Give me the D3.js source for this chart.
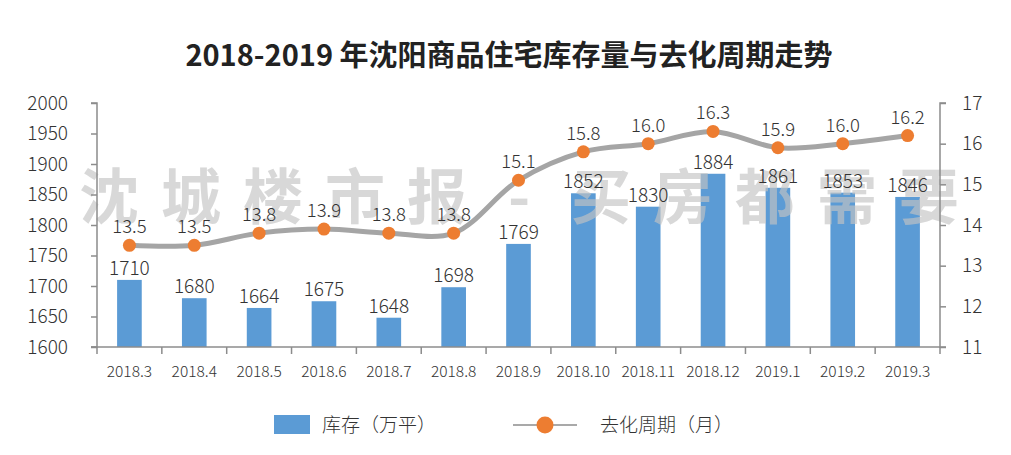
<!DOCTYPE html>
<html><head><meta charset="utf-8">
<script src="https://cdn.jsdelivr.net/npm/d3@7"></script>
<style>body{margin:0;background:#fff}svg{display:block}text{font-family:"Noto Sans CJK SC","Noto Sans",sans-serif}</style>
</head><body><svg id="c" width="1011" height="455"></svg>
<script>
const categories=["2018.3","2018.4","2018.5","2018.6","2018.7","2018.8","2018.9","2018.10","2018.11","2018.12","2019.1","2019.2","2019.3"];
const stock=[1710,1680,1664,1675,1648,1698,1769,1852,1830,1884,1861,1853,1846];
const cycle=[13.5,13.5,13.8,13.9,13.8,13.8,15.1,15.8,16.0,16.3,15.9,16.0,16.2];
const leftTicks=[1600,1650,1700,1750,1800,1850,1900,1950,2000];
const rightTicks=[11,12,13,14,15,16,17];
const title="2018-2019 年沈阳商品住宅库存量与去化周期走势";
const watermark=["沈","城","楼","市","报","-","买","房","都","需","要"];
const legendLabels=["库存（万平）","去化周期（月）"];

const svg=d3.select("#c");
const L=97,R=940,T=103,B=347;
const x=d3.scaleBand().domain(categories).range([L,R]).paddingInner(0.62).paddingOuter(0.31);
const xb=d3.scaleBand().domain(categories).range([L,R]);
const yL=d3.scaleLinear().domain([1600,2000]).range([B,T]);
const yR=d3.scaleLinear().domain([11,17]).range([B,T]);
const axisColor="#8c8c8c";
const labelFont='"Noto Sans CJK SC","Noto Sans",sans-serif';

svg.append("text").attr("x",509).attr("y",66).attr("text-anchor","middle")
  .attr("font-size",29).attr("font-weight","bold").attr("fill","#222").text(title);

// bars
svg.append("g").selectAll("rect").data(stock).join("rect")
  .attr("x",(d,i)=>x(categories[i])).attr("width",x.bandwidth())
  .attr("y",d=>yL(d)).attr("height",d=>B-yL(d)).attr("fill","#5b9bd5");

// watermark (over bars, under labels)
const wm=svg.append("g");
wm.selectAll("text").data(watermark).join("text")
  .attr("x",(d,i)=>109+i*82).attr("y",219).attr("text-anchor","middle")
  .attr("font-size",60).attr("font-weight","bold").attr("fill","#c4c4c4").attr("opacity",0.65).text(d=>d);

svg.append("g").selectAll("text").data(stock).join("text")
  .attr("x",(d,i)=>x(categories[i])+x.bandwidth()/2).attr("y",d=>yL(d)-5)
  .attr("text-anchor","middle").attr("font-size",19).attr("font-weight",300).attr("fill","#333").text(d=>d);

// axes
const gL=svg.append("g").attr("transform",`translate(${L},0)`).call(d3.axisLeft(yL).tickValues(leftTicks).tickSize(6).tickPadding(23).tickFormat(d3.format("d")));
const gR=svg.append("g").attr("transform",`translate(${R},0)`).call(d3.axisRight(yR).tickValues(rightTicks).tickSize(6).tickPadding(16).tickFormat(d3.format("d")));
const gX=svg.append("g").attr("transform",`translate(0,${B})`).call(d3.axisBottom(xb).tickSize(0).tickPadding(19));
[gL,gR,gX].forEach(g=>{g.select(".domain").attr("stroke",axisColor).attr("stroke-width",1.5);
  g.selectAll(".tick line").attr("stroke",axisColor).attr("stroke-width",1.5);
  g.selectAll("text").attr("fill","#333").attr("font-family",labelFont).attr("font-weight",300);});
gL.selectAll("text").attr("font-size",19);
gR.selectAll("text").attr("font-size",19);
gX.selectAll("text").attr("font-size",15.5);
gL.select(".domain").attr("d",`M-6,${B}H0V${T}H-6`);
gX.select(".domain").attr("d",`M${L-6},0H${R}`);
gR.select(".domain").attr("d",`M6,${B}H0V${T}H6`);
gX.append("g").selectAll("line").data(d3.range(categories.length+1)).join("line")
  .attr("x1",i=>L+i*xb.step()).attr("x2",i=>L+i*xb.step()).attr("y1",0).attr("y2",7)
  .attr("stroke",axisColor).attr("stroke-width",1.5);

// line
const cx=(d,i)=>xb(categories[i])+xb.bandwidth()/2;
svg.append("path").datum(cycle).attr("fill","none").attr("stroke","#a5a5a5").attr("stroke-width",5)
  .attr("d",d3.line().x(cx).y(d=>yR(d)).curve(d3.curveCatmullRom.alpha(0.5)));
svg.append("g").selectAll("circle").data(cycle).join("circle")
  .attr("cx",cx).attr("cy",d=>yR(d)).attr("r",6.5).attr("fill","#ed7d31");
svg.append("g").selectAll("text").data(cycle).join("text")
  .attr("x",cx).attr("y",d=>yR(d)-12).attr("text-anchor","middle")
  .attr("font-size",18.5).attr("font-weight",300).attr("fill","#333").text(d=>d.toFixed(1));

// legend
svg.append("rect").attr("x",274).attr("y",415).attr("width",36).attr("height",19).attr("fill","#5b9bd5");
svg.append("text").attr("x",322).attr("y",432).attr("font-size",19).attr("font-weight",300).attr("fill","#333").text(legendLabels[0]);
svg.append("line").attr("x1",513).attr("x2",577).attr("y1",425).attr("y2",425).attr("stroke","#8c8c8c").attr("stroke-width",1.5);
svg.append("circle").attr("cx",545).attr("cy",425).attr("r",8.5).attr("fill","#ed7d31");
svg.append("text").attr("x",600).attr("y",432).attr("font-size",19).attr("font-weight",300).attr("fill","#333").text(legendLabels[1]);
</script></body></html>
